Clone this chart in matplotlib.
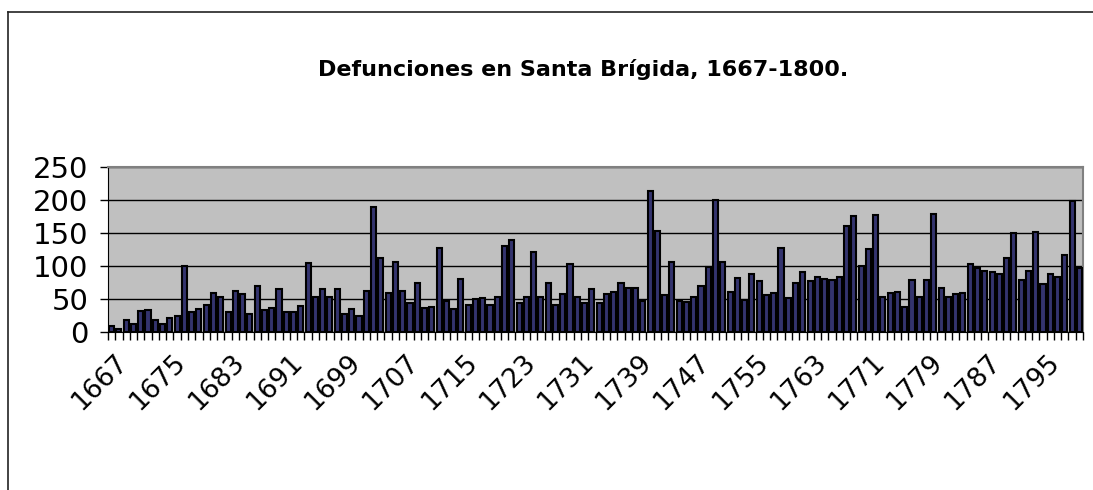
import matplotlib
matplotlib.use("Agg")
import matplotlib.pyplot as plt
import matplotlib.transforms as mtransforms
from matplotlib.lines import Line2D
import numpy as np

# datos: defunciones por año, Santa Brígida 1667-1800
years = list(range(1667, 1801))
deaths_1667_1699 = [9, 5, 18, 12, 32, 34, 19, 13, 21, 25, 100, 30, 35, 42, 59, 53, 30,
                    63, 58, 28, 70, 34, 37, 66, 31, 30, 40, 105, 54, 65, 53, 65, 28]
deaths_1700_1732 = [35, 25, 62, 190, 113, 59, 106, 63, 45, 74, 37, 39, 127, 48, 35, 81,
                    41, 50, 52, 41, 54, 131, 140, 45, 54, 121, 53, 75, 41, 58, 103, 53, 45]
deaths_1733_1765 = [65, 45, 58, 61, 74, 67, 67, 48, 214, 153, 57, 106, 47, 46, 53, 70,
                    99, 200, 106, 61, 82, 49, 88, 77, 57, 59, 128, 52, 75, 91, 77, 84, 81]
deaths_1766_1800 = [79, 84, 161, 176, 101, 126, 178, 54, 59, 61, 39, 79, 54, 79, 179, 67,
                    54, 58, 60, 104, 97, 93, 91, 88, 113, 150, 79, 93, 152, 73, 89, 84,
                    117, 199, 98]
deaths = deaths_1667_1699 + deaths_1700_1732 + deaths_1733_1765 + deaths_1766_1800
label_years = years[::8]

W, H = 1093, 490
fig = plt.figure(figsize=(W / 100, H / 100), dpi=100)
fig.patch.set_facecolor("white")

# marco exterior del gráfico
fx, fy = 8 / W, 1 - 12 / H
fig.add_artist(Line2D([fx, 1.0], [fy, fy], color="#222222", lw=1.2, transform=fig.transFigure))
fig.add_artist(Line2D([fx, fx], [0.0, fy], color="#222222", lw=1.2, transform=fig.transFigure))

left, right = 108 / W, 1083 / W
bottom, top = 1 - 332.3 / H, 1 - 167.3 / H
ax = fig.add_axes([left, bottom, right - left, top - bottom])
ax.set_facecolor("#C0C0C0")

ax.bar(years, deaths, width=0.7, color="#34346e", edgecolor="black", linewidth=1.5, zorder=3)

ax.set_xlim(years[0] - 0.5, years[-1] + 0.5)
ax.set_ylim(0, 250)
ax.set_yticks([0, 50, 100, 150, 200, 250])
ax.yaxis.grid(True, color="black", lw=1.0, zorder=1)
ax.set_axisbelow(True)

for s in ["top", "right"]:
    ax.spines[s].set_color("#808080")
    ax.spines[s].set_linewidth(1.5)
ax.spines["left"].set_color("black")
ax.spines["bottom"].set_color("black")

ax.set_xticks(label_years)
ax.set_xticks(np.arange(years[0] - 0.5, years[-1] + 1), minor=True)
ax.tick_params(axis="x", which="major", length=0, pad=0)
ax.tick_params(axis="x", which="minor", length=6, width=1, color="black", direction="out")
ax.tick_params(axis="y", length=6, width=1, direction="out", pad=8)

ax.set_yticklabels([str(v) for v in [0, 50, 100, 150, 200, 250]], fontsize=21, family="DejaVu Sans")
ax.set_xticklabels([str(y) for y in label_years], fontsize=19, family="DejaVu Sans",
                   rotation=45, ha="right", va="top", rotation_mode="anchor")
offset = mtransforms.ScaledTranslation(0.03, -0.17, fig.dpi_scale_trans)
for lab in ax.get_xticklabels():
    lab.set_transform(lab.get_transform() + offset)

fig.text(583 / W, 1 - 70 / H, "Defunciones en Santa Brígida, 1667-1800.",
         ha="center", va="center", fontsize=16, fontweight="bold", family="DejaVu Sans")

fig.savefig("out.png", dpi=100)
